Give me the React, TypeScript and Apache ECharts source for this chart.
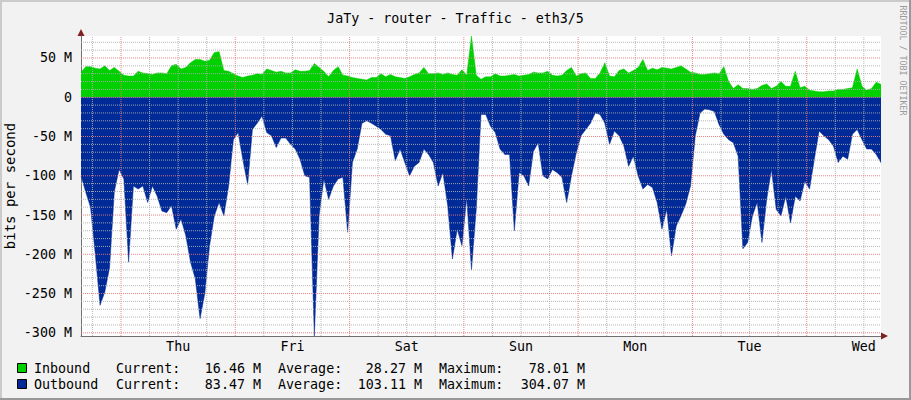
import React, { useEffect, useRef } from 'react';
import * as echarts from 'echarts';

// Time axis: hours relative to Thu 00:00, one sample per hour
const START_HOUR = -8.4;
const STEP_HOURS = 1;
const SPAN_HOURS = 168;
const dayLabels = ['Thu', 'Fri', 'Sat', 'Sun', 'Mon', 'Tue', 'Wed'];
const dayNoonHours = [12, 36, 60, 84, 108, 132, 156];
const yTickValues = [-300, -250, -200, -150, -100, -50, 0, 50];
const Y_MIN = -304.07;
const Y_MAX = 78.01;

// Inbound (M bit/s)
const inbound = [
  32, 39, 39, 37, 36, 40, 34, 38,
  33, 28, 27, 27, 33, 31, 30, 29,
  31, 31, 30, 40, 42, 36, 38, 44,
  48, 48, 46, 47,
  57, 58, 34, 33, 30, 27, 25, 27,
  28, 30, 29, 36, 34, 32, 33, 31,
  31, 35, 33, 33, 34, 43, 38, 33,
  26, 34, 39, 28,
  27, 25, 24, 23, 22, 25, 25, 30,
  26, 29, 26, 25, 24, 26, 29, 31,
  38, 30, 30, 31, 29, 31, 29, 28,
  35, 28, 78.01, 28,
  23, 26, 26, 30, 27, 27, 28, 29,
  27, 28, 29, 32, 31, 31, 33, 28,
  27, 28, 34, 38, 27, 30, 31, 24,
  24, 31, 44, 27,
  26, 34, 36, 31, 34, 38, 48, 34,
  37, 35, 38, 37, 36, 38, 40, 36,
  32, 31, 29, 29, 30, 31, 30, 39,
  20, 11, 16, 11,
  11, 10, 11, 15, 17, 11, 14, 20,
  14, 14, 33, 12, 14, 9, 8, 7,
  7, 8, 8, 10, 10, 11, 12, 36,
  14, 9, 11, 19,
  16.46,
];

// Outbound (M bit/s, drawn below zero)
const outbound = [
  100, 121, 140, 200, 265, 248, 217, 120,
  92, 104, 210, 113, 117, 113, 134, 113,
  126, 145, 147, 138, 168, 155, 176, 210,
  231, 282, 250, 189,
  151, 134, 151, 113, 54, 45, 80, 111,
  41, 33, 24, 45, 49, 64, 52, 52,
  60, 66, 79, 100, 102, 304.07, 151, 104,
  130, 113, 104, 102,
  172, 83, 66, 33, 30, 33, 37, 41,
  47, 49, 81, 66, 83, 100, 88, 83,
  66, 73, 83, 113, 96, 138, 206, 168,
  189, 128, 220, 143,
  22, 22, 37, 45, 66, 73, 73, 170,
  96, 100, 113, 69, 58, 100, 104, 92,
  96, 102, 134, 100, 71, 49, 41, 33,
  20, 22, 33, 60,
  43, 49, 62, 88, 75, 100, 117, 111,
  115, 134, 168, 143, 202, 164, 151, 136,
  113, 49, 20, 15, 16, 18, 35, 47,
  54, 58, 75, 193,
  185, 151, 134, 185, 130, 92, 143, 151,
  126, 160, 126, 132, 107, 117, 79, 43,
  49, 54, 62, 83, 75, 79, 47, 41,
  54, 66, 66, 73,
  83.47,
];

const legendNames = ['Inbound', 'Outbound'];
const legendColors = ['#00CF00', '#002A97'];
const currentValues = [16.46, 83.47];
const averageValues = [28.27, 103.11];
const maximumValues = [78.01, 304.07];

const FONT = '"DejaVu Sans Mono", "Liberation Mono", monospace';

export default function App() {
  const ref = useRef<HTMLDivElement>(null);

  useEffect(() => {
    document.body.style.margin = '0';
    if (!ref.current) return;
    const chart = echarts.init(ref.current, undefined, { renderer: 'svg' });

    const xEnd = START_HOUR + SPAN_HOURS;
    const inData = inbound.map((v, i) => [START_HOUR + i * STEP_HOURS, v]);
    const outData = outbound.map((v, i) => [START_HOUR + i * STEP_HOURS, -v]);

    const minorColor = 'rgba(175,175,175,0.9)';
    const majorColor = 'rgba(235,120,120,0.9)';

    // Grid line positions (hours / values) -> one line series each, through the axes' scales
    const gridSeries: any[] = [];
    const addLine = (pts: number[][], color: string) => {
      gridSeries.push({
        type: 'line',
        data: pts,
        silent: true,
        symbol: 'none',
        showSymbol: false,
        z: 5,
        clip: false,
        lineStyle: { color, width: 1, type: [1, 1] },
        emphasis: { disabled: true },
        tooltip: { show: false },
      });
    };
    for (let h = -6; h < xEnd; h += 6) {
      if (h < START_HOUR) continue;
      addLine([[h, Y_MIN], [h, Y_MAX]], h % 24 === 0 ? majorColor : minorColor);
    }
    for (let v = -300; v <= 70; v += 10) {
      addLine([[START_HOUR, v], [xEnd, v]], v % 50 === 0 ? majorColor : minorColor);
    }

    const fmt = (v: number) => v.toFixed(2) + ' M';
    const legendGraphics: any[] = [];
    const rowY = [368, 384];
    const txt = (x: number, y: number, text: string, align: string) => ({
      type: 'text',
      x,
      y,
      silent: true,
      style: {
        text,
        font: `13.33px ${FONT}`,
        fill: '#000',
        align,
        textAlign: align,
        verticalAlign: 'middle',
        textVerticalAlign: 'middle',
      },
    });
    legendNames.forEach((name, i) => {
      const y = rowY[i];
      legendGraphics.push({
        type: 'rect',
        shape: { x: 17.5, y: y - 4.5, width: 9, height: 9 },
        style: { fill: legendColors[i], stroke: '#000', lineWidth: 1 },
        silent: true,
      });
      legendGraphics.push(txt(34, y, name, 'left'));
      legendGraphics.push(txt(116, y, 'Current:', 'left'));
      legendGraphics.push(txt(261, y, fmt(currentValues[i]), 'right'));
      legendGraphics.push(txt(278, y, 'Average:', 'left'));
      legendGraphics.push(txt(422, y, fmt(averageValues[i]), 'right'));
      legendGraphics.push(txt(439, y, 'Maximum:', 'left'));
      legendGraphics.push(txt(585, y, fmt(maximumValues[i]), 'right'));
    });

    chart.setOption({
      animation: false,
      backgroundColor: '#F2F2F2',
      textStyle: { fontFamily: FONT },
      title: {
        text: 'JaTy - router - Traffic - eth3/5',
        left: 'center',
        top: 7,
        textStyle: { fontFamily: FONT, fontSize: 13.33, fontWeight: 'normal', color: '#000' },
      },
      grid: {
        left: 81,
        top: 36,
        width: 800,
        height: 300,
        show: true,
        backgroundColor: '#FFFFFF',
        borderWidth: 0,
        containLabel: false,
        outerBoundsMode: 'none',
      },
      xAxis: {
        type: 'value',
        min: START_HOUR,
        max: xEnd,
        axisLine: { show: true, onZero: false, lineStyle: { color: '#707070', width: 1 } },
        axisTick: { show: false },
        splitLine: { show: false },
        axisLabel: {
          customValues: dayNoonHours,
          formatter: (v: number) => dayLabels[Math.round((v - 12) / 24)] ?? '',
          fontFamily: FONT,
          fontSize: 13.33,
          color: '#000',
          margin: 4,
        },
      },
      yAxis: {
        type: 'value',
        min: Y_MIN,
        max: Y_MAX,
        axisLine: { show: true, onZero: false, lineStyle: { color: '#707070', width: 1 } },
        axisTick: { show: false },
        splitLine: { show: false },
        axisLabel: {
          customValues: yTickValues,
          formatter: (v: number) => (v === 0 ? '0' : `${v} M`),
          fontFamily: FONT,
          fontSize: 13.33,
          color: '#000',
          margin: 9,
        },
      },
      series: [
        {
          name: 'Inbound',
          type: 'line',
          data: inData,
          showSymbol: false,
          symbol: 'none',
          lineStyle: { width: 0.5, color: '#00CF00' },
          areaStyle: { color: '#00CF00', opacity: 1 },
          silent: true,
          z: 2,
        },
        {
          name: 'Outbound',
          type: 'line',
          data: outData,
          showSymbol: false,
          symbol: 'none',
          lineStyle: { width: 0.5, color: '#002A97' },
          areaStyle: { color: '#002A97', opacity: 1 },
          silent: true,
          z: 2,
        },
        ...gridSeries,
      ],
      graphic: [
        { type: 'rect', shape: { x: 0, y: 0, width: 911, height: 2 }, style: { fill: '#CBCBCB' }, silent: true },
        { type: 'rect', shape: { x: 0, y: 0, width: 2, height: 400 }, style: { fill: '#CBCBCB' }, silent: true },
        { type: 'rect', shape: { x: 0, y: 398, width: 911, height: 2 }, style: { fill: '#999999' }, silent: true },
        { type: 'rect', shape: { x: 909, y: 0, width: 2, height: 400 }, style: { fill: '#999999' }, silent: true },
        {
          type: 'polygon',
          shape: { points: [[77.5, 36], [84.5, 36], [81, 29]] },
          style: { fill: '#801F1F' },
          silent: true,
        },
        {
          type: 'polygon',
          shape: { points: [[881, 332.5], [881, 339.5], [888, 336]] },
          style: { fill: '#801F1F' },
          silent: true,
        },
        {
          type: 'text',
          x: 10,
          y: 186,
          rotation: Math.PI / 2,
          silent: true,
          style: {
            text: 'bits per second',
            font: `14px ${FONT}`,
            fill: '#000',
            align: 'center',
            textAlign: 'center',
            verticalAlign: 'middle',
            textVerticalAlign: 'middle',
          },
        },
        {
          type: 'text',
          x: 902.5,
          y: 60.5,
          rotation: -Math.PI / 2,
          silent: true,
          style: {
            text: 'RRDTOOL / TOBI OETIKER',
            font: `8.3px ${FONT}`,
            fill: '#9A9A9A',
            align: 'center',
            textAlign: 'center',
            verticalAlign: 'middle',
            textVerticalAlign: 'middle',
          },
        },
        ...legendGraphics,
      ],
    });

    return () => chart.dispose();
  }, []);

  return (
    <div
      ref={ref}
      style={{ position: 'absolute', left: 0, top: 0, width: 911, height: 400 }}
    />
  );
}
